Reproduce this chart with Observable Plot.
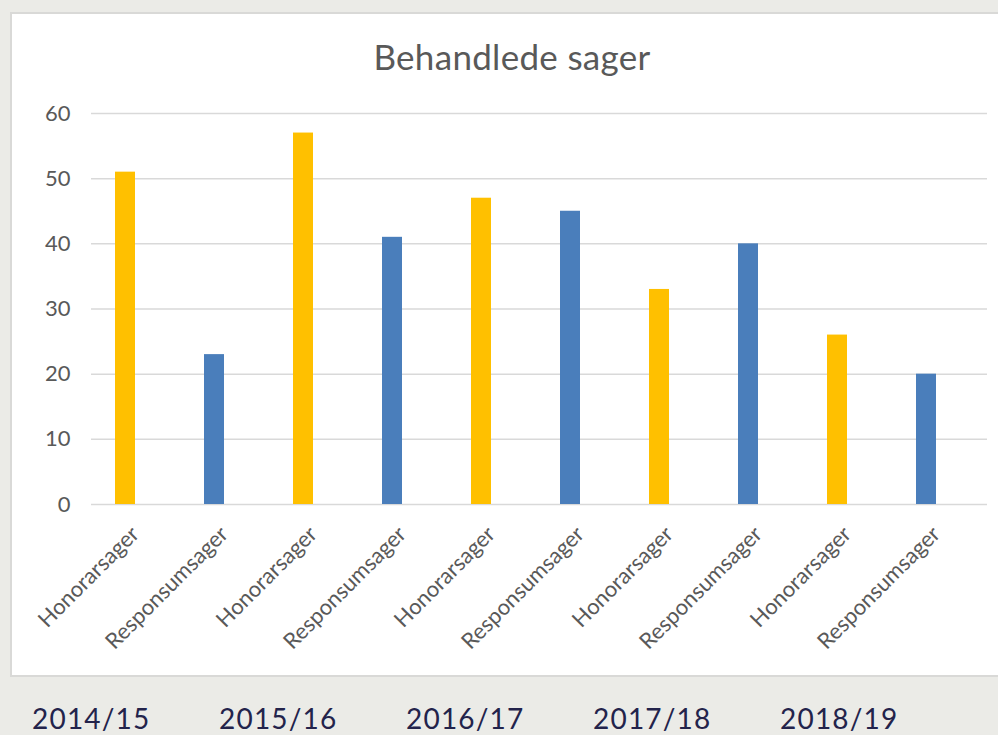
<!DOCTYPE html>
<html><head><meta charset="utf-8">
<script src="https://cdn.jsdelivr.net/npm/d3@7"></script>
<script src="https://cdn.jsdelivr.net/npm/@observablehq/plot@0.6"></script>
<style>
html,body{margin:0;padding:0;background:#ebebe7;width:998px;height:735px;overflow:hidden;font-family:Lato,sans-serif}
#panel{position:absolute;left:10px;top:12px;width:1000px;height:665px;background:#fff;border:2px solid #d9d9d7;box-sizing:border-box}
#title{position:absolute;left:0;top:39px;width:1024px;text-align:center;font-size:35px;letter-spacing:0.3px;line-height:1;color:#595959;font-family:Lato,sans-serif}
#chart{position:absolute;left:0;top:0}
#years{position:absolute;left:32px;top:701px;display:flex;font-family:Lato,sans-serif;font-size:28px;line-height:normal;color:#23234b;letter-spacing:1.2px}
#years span{display:block;width:187px}
</style></head>
<body>
<div id="panel"></div>
<div id="title">Behandlede sager</div>
<div id="chart"></div>
<div id="years"></div>
<script>
const years = ["2014/15","2015/16","2016/17","2017/18","2018/19"];
const types = ["Honorarsager","Responsumsager"];
const honorar = [51,57,47,33,26];
const respons = [23,41,45,40,20];
const yTicks = [0,10,20,30,40,50,60];
const colors = ["#FFC000","#4A7EBB"];

const rows = [];
years.forEach((y,i)=>{
  rows.push({key: y+"|"+types[0], year:y, type:types[0], value:honorar[i]});
  rows.push({key: y+"|"+types[1], year:y, type:types[1], value:respons[i]});
});
const keys = rows.map(d=>d.key);

const chart = Plot.plot({
  width: 998, height: 680,
  marginTop: 113, marginBottom: 176, marginLeft: 91, marginRight: 11,
  style: {background:"transparent", fontFamily:"Lato, sans-serif", color:"#595959", overflow:"visible"},
  x: {domain: keys, paddingInner: 0.777, paddingOuter: 0.39, align: 0.314, axis: null},
  y: {domain: [0,60], axis: null},
  color: {domain: types, range: colors},
  marks: [
    Plot.ruleY(yTicks, {stroke:"#d9d9d9", strokeWidth:1.5}),
    Plot.barY(rows, {x:"key", y:"value", fill:"type"}),
    Plot.axisY({ticks: yTicks, tickSize:0, tickPadding:21, fontSize:22, fill:"#595959", label:null}),
    Plot.axisX({tickSize:0, tickRotate:-45, tickPadding:26, dx:10, fontSize:22, fill:"#595959", label:null,
      tickFormat: k => k.split("|")[1]})
  ]
});
document.getElementById("chart").appendChild(chart);
const yr = document.getElementById("years");
years.forEach(y=>{const s=document.createElement("span"); s.textContent=y; yr.appendChild(s);});
</script>
</body></html>
